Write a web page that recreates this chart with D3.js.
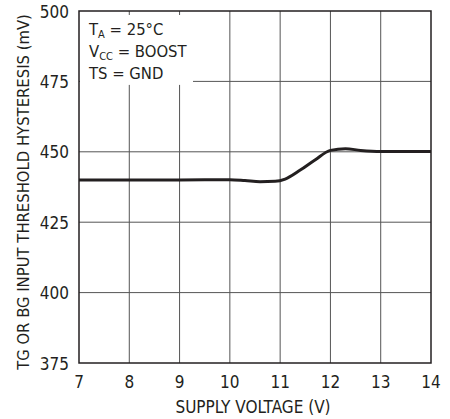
<!DOCTYPE html>
<html>
<head>
<meta charset="utf-8">
<script src="https://cdn.jsdelivr.net/npm/d3@7"></script>
<style>
  body { margin: 0; background: #fff; }
  text { font-family: "Liberation Sans Narrow", "DejaVu Sans Condensed", "Roboto", sans-serif; fill: #231f20; }
</style>
</head>
<body>
<div id="chart"></div>
<script>
// data
var xTicks = [7, 8, 9, 10, 11, 12, 13, 14];
var yTicks = [375, 400, 425, 450, 475, 500];
var voltage    = [7, 8, 9, 10, 10.3, 10.6, 10.9, 11.1, 11.4, 11.7, 12, 12.3, 12.6, 13, 14];
var hysteresis = [440, 440, 440, 440.1, 439.8, 439.4, 439.5, 440.3, 443.5, 447.2, 450.5, 451.1, 450.5, 450.1, 450.1];

var w = 450, h = 419;
var margin = {top: 11, right: 19, bottom: 56, left: 79};

var svg = d3.select("#chart")
    .append("svg")
    .attr("width", w)
    .attr("height", h);

var x = d3.scaleLinear().domain([7, 14]).range([margin.left, w - margin.right]);
var y = d3.scaleLinear().domain([375, 500]).range([h - margin.bottom, margin.top]);

// grid
svg.append("g").selectAll("line")
    .data(xTicks.slice(1, -1))
    .enter().append("line")
    .attr("x1", d => x(d)).attr("x2", d => x(d))
    .attr("y1", y(500)).attr("y2", y(375))
    .style("stroke", "#555").style("stroke-width", 1);

svg.append("g").selectAll("line")
    .data(yTicks.slice(1, -1))
    .enter().append("line")
    .attr("x1", x(7)).attr("x2", x(14))
    .attr("y1", d => y(d)).attr("y2", d => y(d))
    .style("stroke", "#555").style("stroke-width", 1);

// legend box masks the grid
svg.append("rect")
    .attr("x", x(7) + 1).attr("y", y(500) + 4)
    .attr("width", 113).attr("height", y(475) - y(500) - 0.5)
    .style("fill", "#fff");

// frame
svg.append("rect")
    .attr("x", x(7)).attr("y", y(500))
    .attr("width", x(14) - x(7)).attr("height", y(375) - y(500))
    .style("fill", "none").style("stroke", "#231f20").style("stroke-width", 1.5);

// curve
var line = d3.line()
    .x((d, i) => x(voltage[i]))
    .y(d => y(d))
    .curve(d3.curveMonotoneX);

svg.append("path")
    .datum(hysteresis)
    .attr("d", line)
    .style("fill", "none")
    .style("stroke", "#231f20")
    .style("stroke-width", 3);

// tick labels
var fs = 17;
svg.append("g").selectAll("text")
    .data(xTicks)
    .enter().append("text")
    .attr("x", d => x(d))
    .attr("y", y(375) + 25)
    .attr("text-anchor", "middle")
    .attr("font-size", fs)
    .text(d => d);

svg.append("g").selectAll("text")
    .data(yTicks)
    .enter().append("text")
    .attr("x", x(7) - 10)
    .attr("y", d => y(d) + 6.5)
    .attr("text-anchor", "end")
    .attr("font-size", fs)
    .text(d => d);

// axis titles
svg.append("text")
    .attr("x", (x(7) + x(14)) / 2 - 2)
    .attr("y", 413)
    .attr("text-anchor", "middle")
    .attr("font-size", 17)
    .text("SUPPLY VOLTAGE (V)");

svg.append("text")
    .attr("transform", "translate(29," + ((y(375) + y(500)) / 2 + 5) + ")rotate(-90)")
    .attr("text-anchor", "middle")
    .attr("font-size", 16.5)
    .text("TG OR BG INPUT THRESHOLD HYSTERESIS (mV)");

// conditions
var legend = svg.append("text")
    .attr("x", 89)
    .attr("font-size", 16.5);
var l1 = legend.append("tspan").attr("x", 89).attr("y", 35);
l1.append("tspan").text("T");
l1.append("tspan").attr("font-size", 11).attr("dy", 3).text("A");
l1.append("tspan").attr("dy", -3).text(" = 25°C");
var l2 = legend.append("tspan").attr("x", 89).attr("y", 57);
l2.append("tspan").text("V");
l2.append("tspan").attr("font-size", 11).attr("dy", 3).text("CC");
l2.append("tspan").attr("dy", -3).text(" = BOOST");
legend.append("tspan").attr("x", 89).attr("y", 79).text("TS = GND");
</script>
</body>
</html>
